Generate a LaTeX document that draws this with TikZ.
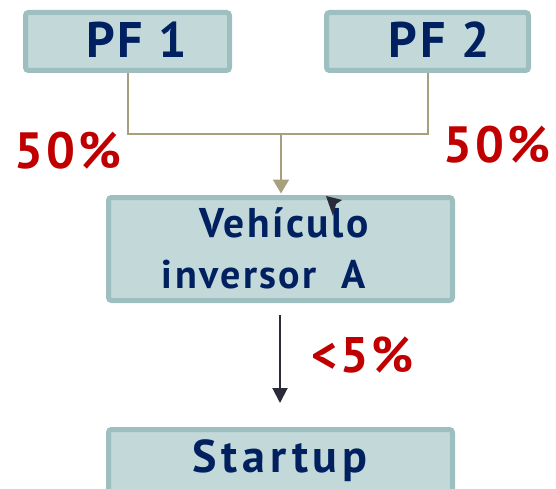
\documentclass[tikz,border=0pt]{standalone}
\usepackage{fontspec}
\usepackage{graphicx}
\usetikzlibrary{arrows.meta,backgrounds}
\newfontfamily\wideboxfont{PT Sans}[LetterSpace=6]
\newfontfamily\widerboxfont{PT Sans}[LetterSpace=10]
\definecolor{boxfill}{HTML}{C3D8D8}
\definecolor{boxline}{HTML}{9DBFC0}
\definecolor{navy}{HTML}{002060}
\definecolor{pctred}{HTML}{C00000}
\definecolor{khaki}{HTML}{A8A07C}
\definecolor{darkline}{HTML}{2A2A38}
% #1 font size (pt), #2 horizontal scale, #3 text
\newcommand\sqtext[3]{\scalebox{#2}[1]{\fontsize{#1}{#1}\selectfont\bfseries #3}}
\begin{document}
\begin{tikzpicture}[x=1pt,y=-1pt,
  card/.style={draw=boxline, fill=boxfill, line width=5pt, rounded corners=3pt,
               inner sep=0pt, anchor=center},
  title/.style={text=navy, font=\wideboxfont, inner sep=0pt, anchor=base},
  share/.style={text=pctred, font=\wideboxfont, inner sep=0pt, anchor=base},
  feed/.style={draw=khaki, line width=2pt},
  feedarrow/.style={draw=khaki, line width=2pt, -{Triangle[length=14pt,width=16pt]}},
  flowarrow/.style={draw=darkline, line width=2pt, -{Triangle[length=15pt,width=15pt]}}]
\path[use as bounding box] (0,0) rectangle (556,489);
\clip (0,0) rectangle (556,489);

% boxes
\node[card, minimum width=204pt, minimum height=58pt] (pf1) at (127.5,41.5) {};
\node[card, minimum width=202pt, minimum height=58pt] (pf2) at (427.5,41.5) {};
\node[card, minimum width=344pt, minimum height=103pt] (veh) at (280.5,249) {};
\node[card, minimum width=344pt, minimum height=111pt] (start) at (280.5,485) {};

% box titles
\node[title] (t1) at (136.5,58) {\sqtext{50}{1}{PF 1}};
\node[title] (t2) at (439,58) {\sqtext{50}{1}{PF 2}};
\node[title] (t3) at (284,237) {\sqtext{41.5}{1}{Vehículo}};
\node[title] (t4) at (264,288) {\sqtext{40}{1}{inversor\ \ A}};
\node[title, font=\widerboxfont] (t5) at (280,472) {\sqtext{46}{1}{Startup}};

% shares
\node[share] (s1) at (68,168) {\sqtext{51}{1}{50\%}};
\node[share] (s2) at (497,163) {\sqtext{51}{1}{50\%}};
\node[share] (s3) at (362.5,372) {\sqtext{50}{1}{<5\%}};

% connectors
\coordinate (join) at (281,134);
\coordinate (d0) at (280,315);
\coordinate (d1) at (280,403);
\begin{scope}[on background layer]
  \draw[feed] (pf1.south) |- (join) -| (pf2.south);
\end{scope}
\draw[feedarrow, shorten >=1.5pt] (join) -- (join |- veh.north);
\draw[flowarrow] (d0) -- (d1);

% pointer mark
\fill[darkline] (326,196) -- (342,200) -- (336,204) -- (333,216) -- cycle;
\end{tikzpicture}
\end{document}
